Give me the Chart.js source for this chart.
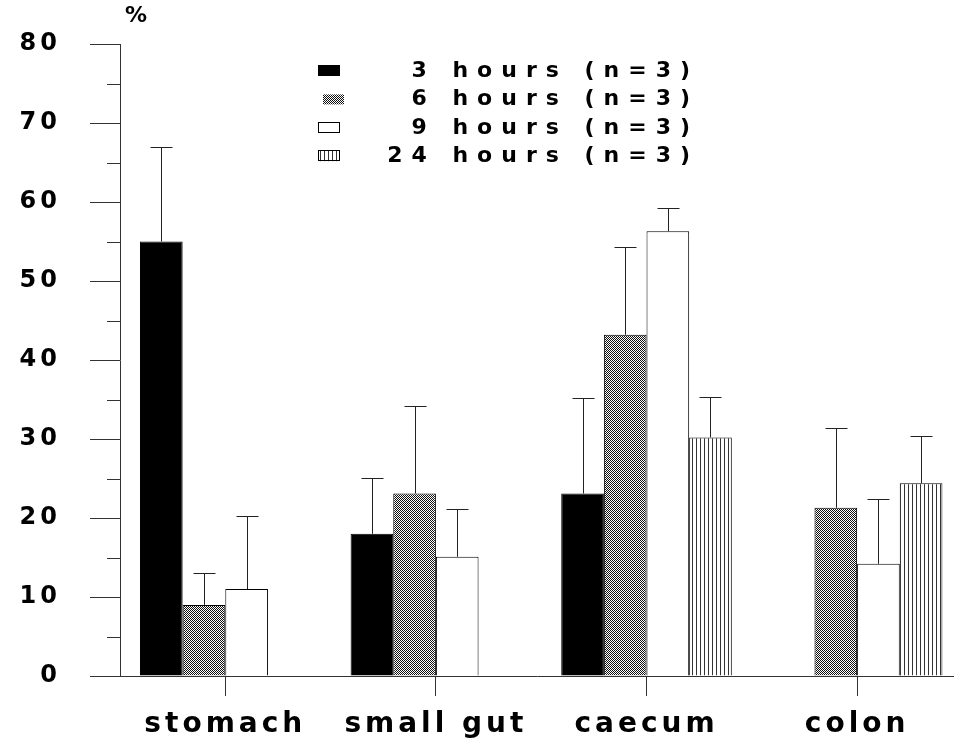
<!DOCTYPE html>
<html>
<head>
<meta charset="utf-8">
<title>Recovery by gut region</title>
<script src="https://cdn.jsdelivr.net/npm/chart.js@4"></script>
<style>
  html, body { margin: 0; padding: 0; background: #fff; overflow: hidden; }
  #wrap { width: 954px; height: 739px; }
</style>
</head>
<body>
<div id="wrap"><canvas id="myChart" width="954" height="739"></canvas></div>
<script>
const categories = ['stomach', 'small gut', 'caecum', 'colon'];
const seriesLabels = ['3 hours (n=3)', '6 hours (n=3)', '9 hours (n=3)', '24 hours (n=3)'];

// mean % per region
const hours3 = [55, 18, 23.1, null];
const hours6 = [9, 23.1, 43.2, 21.3];
const hours9 = [11, 15.1, 56.3, 14.2];
const hours24 = [null, null, 30.2, 24.4];

// top of each error bar (mean + SD)
const hours3Err = [67, 25.1, 35.2, null];
const hours6Err = [13, 34.2, 54.3, 31.4];
const hours9Err = [20.2, 21.2, 59.2, 22.4];
const hours24Err = [null, null, 35.3, 30.4];

const yTicks = [0, 10, 20, 30, 40, 50, 60, 70, 80];
const yMinorTicks = [5, 15, 25, 35, 45, 55, 65, 75];

const ctx = document.getElementById('myChart').getContext('2d');

function makePattern(w, h, draw) {
	const c = document.createElement('canvas');
	c.width = w;
	c.height = h;
	const p = c.getContext('2d');
	p.fillStyle = '#fff';
	p.fillRect(0, 0, w, h);
	draw(p);
	return ctx.createPattern(c, 'repeat');
}

const checker = makePattern(2, 2, (p) => {
	p.fillStyle = '#111';
	p.fillRect(0, 0, 1, 1);
	p.fillRect(1, 1, 1, 1);
});
const stripes = makePattern(4, 4, (p) => {
	p.fillStyle = '#333';
	p.fillRect(0, 0, 1, 4);
});

const toPoints = (arr) => arr.map((v, i) => ({ x: i, y: v }));

// Chart.js has no letter spacing option, the original type is very wide
const spacing = {
	id: 'spacing',
	beforeDraw(chart) {
		chart.ctx.letterSpacing = '4px';
	},
};

const errorBars = {
	id: 'errorBars',
	afterDatasetsDraw(chart) {
		const c = chart.ctx;
		const y = chart.scales.y;
		c.save();
		c.strokeStyle = '#222';
		c.lineWidth = 1;
		chart.data.datasets.forEach((ds, di) => {
			const meta = chart.getDatasetMeta(di);
			ds.errTop.forEach((e, i) => {
				if (e == null || ds.data[i].y == null) return;
				const bar = meta.data[i];
				const x = Math.round(bar.x) + 0.5;
				const top = Math.round(y.getPixelForValue(e)) + 0.5;
				c.beginPath();
				c.moveTo(x, bar.y);
				c.lineTo(x, top);
				c.moveTo(x - 11, top);
				c.lineTo(x + 11, top);
				c.stroke();
			});
		});
		c.restore();
	},
};

const extras = {
	id: 'extras',
	afterDraw(chart) {
		const c = chart.ctx;
		const y = chart.scales.y;
		const left = chart.chartArea.left;
		c.save();
		// minor ticks on the y axis
		c.strokeStyle = '#333';
		c.lineWidth = 1;
		yMinorTicks.forEach((v) => {
			const py = Math.round(y.getPixelForValue(v)) + 0.5;
			c.beginPath();
			c.moveTo(left - 13, py);
			c.lineTo(left, py);
			c.stroke();
		});
		// unit
		c.fillStyle = '#000';
		c.font = 'bold 22px "DejaVu Sans"';
		c.letterSpacing = '0px';
		c.textAlign = 'center';
		c.textBaseline = 'middle';
		c.fillText('%', left + 16, chart.chartArea.top - 28);
		// legend
		c.letterSpacing = '9px';
		c.font = 'bold 22px "DejaVu Sans"';
		c.textAlign = 'right';
		chart.data.datasets.forEach((ds, i) => {
			const cy = 71 + i * 28.4;
			c.fillStyle = ds.backgroundColor;
			if (i === 1) {
				c.fillRect(323, cy - 5, 21, 10);
			} else {
				c.fillRect(318, cy - 6, 22, 11);
				c.strokeStyle = '#000';
				c.strokeRect(318.5, Math.round(cy - 6) + 0.5, 21, 10);
			}
			c.fillStyle = '#000';
			c.fillText(ds.label, 699, cy);
		});
		c.restore();
	},
};

const barStyle = { borderColor: '#000', borderWidth: 1, categoryPercentage: 0.81, barPercentage: 1 };

new Chart(ctx, {
	type: 'bar',
	data: {
		datasets: [
			{ label: seriesLabels[0], data: toPoints(hours3), errTop: hours3Err, backgroundColor: '#000', ...barStyle },
			{ label: seriesLabels[1], data: toPoints(hours6), errTop: hours6Err, backgroundColor: checker, ...barStyle },
			{ label: seriesLabels[2], data: toPoints(hours9), errTop: hours9Err, backgroundColor: '#fff', ...barStyle },
			{ label: seriesLabels[3], data: toPoints(hours24), errTop: hours24Err, backgroundColor: stripes, ...barStyle },
		],
	},
	options: {
		responsive: false,
		animation: false,
		events: [],
		layout: { padding: { top: 44, right: 0, bottom: 0, left: 0 } },
		plugins: { legend: { display: false }, tooltip: { enabled: false } },
		scales: {
			x: {
				type: 'linear',
				min: -0.5,
				max: 3.46,
				offset: false,
				afterBuildTicks: (s) => {
					s.ticks = categories.map((c, i) => ({ value: i }));
				},
				afterFit: (s) => {
					s.height = 63;
				},
				ticks: {
					autoSkip: false,
					maxRotation: 0,
					padding: 12,
					color: '#000',
					font: { family: 'DejaVu Sans', size: 28, weight: 'bold' },
					callback: (v) => categories[v],
				},
				border: { display: true, color: '#333', width: 1 },
				grid: { drawOnChartArea: false, drawTicks: true, tickLength: 20, color: '#333', offset: false },
			},
			y: {
				min: 0,
				max: 80,
				afterBuildTicks: (s) => {
					s.ticks = yTicks.map((v) => ({ value: v }));
				},
				afterFit: (s) => {
					s.width = 120;
				},
				ticks: {
					padding: 29,
					color: '#000',
					font: { family: 'DejaVu Sans', size: 24, weight: 'bold' },
				},
				border: { display: true, color: '#333', width: 1 },
				grid: { drawOnChartArea: false, drawTicks: true, tickLength: 30, color: '#333' },
			},
		},
	},
	plugins: [spacing, errorBars, extras],
});
</script>
</body>
</html>
